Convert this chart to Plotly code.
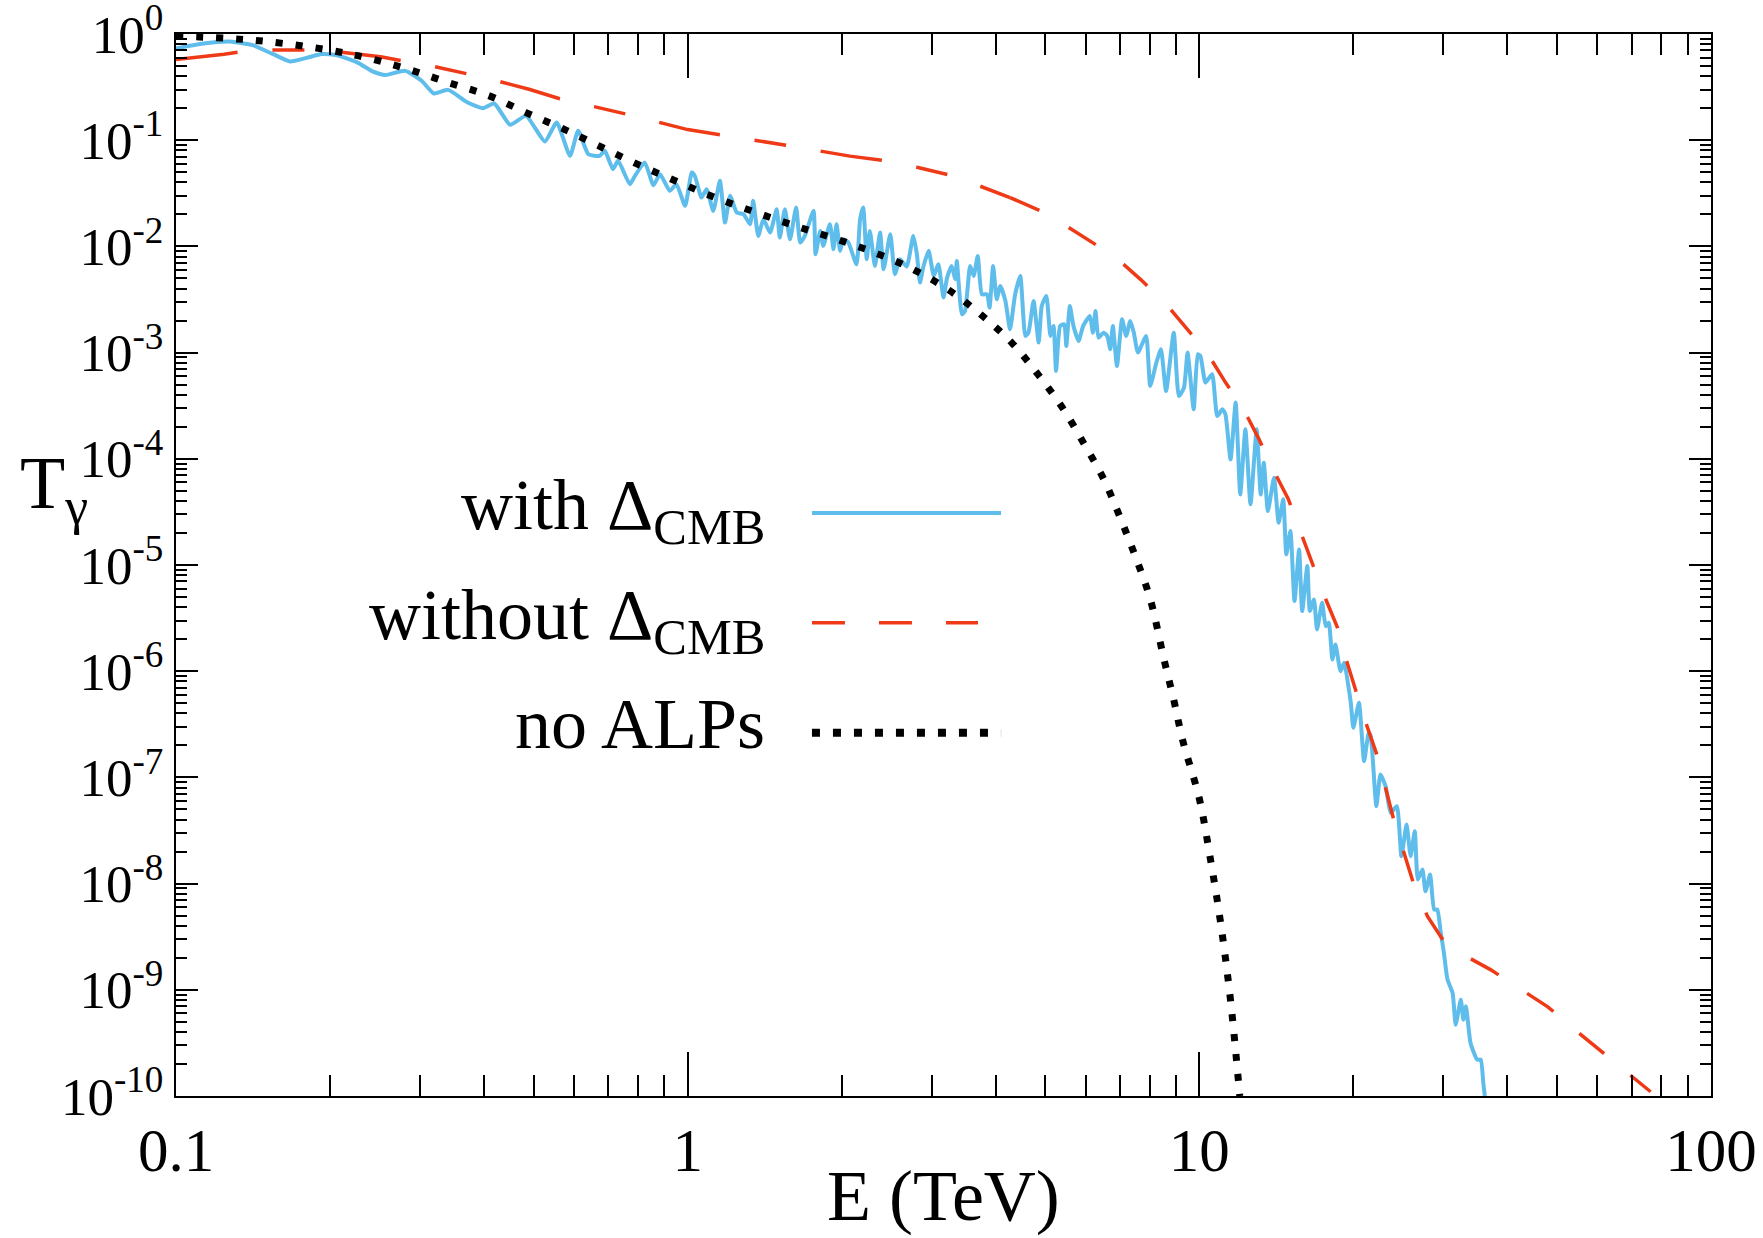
import numpy as np
import plotly.graph_objects as go

# ---------------- data (log10 values) ----------------
# "with Delta_CMB" (blue, solid)
blue_logE = [
    -1.000, -0.950, -0.895, -0.850, -0.810, -0.777, -0.745, -0.715, -0.685, -0.645,
    -0.615, -0.591, -0.552, -0.520, -0.496, -0.468, -0.430, -0.400, -0.378, -0.347,
    -0.316, -0.279, -0.256, -0.230, -0.214, -0.194, -0.172, -0.162, -0.146, -0.136,
    -0.113, -0.103, -0.084, -0.067, -0.054, -0.035, -0.022, -0.005, 0.008, 0.014,
    0.027, 0.037, 0.050, 0.063, 0.073, 0.083, 0.096, 0.109, 0.122, 0.128,
    0.138, 0.148, 0.161, 0.174, 0.180, 0.190, 0.200, 0.212, 0.220, 0.229,
    0.246, 0.250, 0.259, 0.265, 0.278, 0.285, 0.291, 0.298, 0.304, 0.314,
    0.330, 0.337, 0.343, 0.350, 0.356, 0.366, 0.376, 0.383, 0.396, 0.405,
    0.415, 0.428, 0.441, 0.448, 0.454, 0.461, 0.471, 0.481, 0.490, 0.500,
    0.507, 0.516, 0.523, 0.526, 0.536, 0.542, 0.552, 0.559, 0.567, 0.575,
    0.585, 0.590, 0.597, 0.604, 0.611, 0.621, 0.630, 0.640, 0.650, 0.660,
    0.666, 0.676, 0.686, 0.692, 0.701, 0.709, 0.715, 0.720, 0.728, 0.736,
    0.740, 0.747, 0.754, 0.764, 0.773, 0.786, 0.792, 0.797, 0.803, 0.813,
    0.820, 0.826, 0.831, 0.839, 0.849, 0.857, 0.865, 0.872, 0.880, 0.896,
    0.904, 0.916, 0.925, 0.935, 0.950, 0.960, 0.970, 0.977, 0.989, 0.997,
    1.002, 1.012, 1.025, 1.035, 1.045, 1.051, 1.061, 1.071, 1.080, 1.090,
    1.100, 1.112, 1.120, 1.126, 1.134, 1.146, 1.155, 1.164, 1.170, 1.178,
    1.186, 1.195, 1.201, 1.211, 1.216, 1.224, 1.230, 1.240, 1.247, 1.253,
    1.260, 1.266, 1.276, 1.283, 1.296,
    1.301, 1.312, 1.322, 1.331, 1.335, 1.346, 1.354, 1.364, 1.374, 1.386,
    1.395, 1.405, 1.413, 1.421, 1.427, 1.436, 1.442, 1.451, 1.459, 1.465,
    1.472, 1.478, 1.485, 1.495, 1.501, 1.511, 1.516, 1.521, 1.530, 1.543,
    1.550, 1.555, 1.558,
]
blue_logT = [
    -0.136, -0.092, -0.070, -0.105, -0.190, -0.258, -0.225, -0.189, -0.200, -0.270,
    -0.355, -0.387, -0.347, -0.440, -0.560, -0.526, -0.645, -0.698, -0.654, -0.855,
    -0.771, -1.012, -0.833, -1.147, -0.912, -1.132, -1.147, -1.100, -1.273, -1.194,
    -1.414, -1.336, -1.210, -1.424, -1.320, -1.477, -1.414, -1.618, -1.304, -1.336,
    -1.540, -1.461, -1.666, -1.383, -1.776, -1.524, -1.681, -1.697, -1.791, -1.571,
    -1.901, -1.744, -1.870, -1.650, -1.917, -1.650, -1.933, -1.634, -1.964, -1.901,
    -1.666, -2.074, -1.854, -1.995, -1.791, -2.027, -1.791, -2.042, -1.933, -1.964,
    -2.168, -1.744, -1.634, -2.121, -1.854, -2.184, -1.870, -2.215, -1.885, -2.262,
    -2.121, -2.190, -1.901, -2.074, -2.341, -2.184, -2.042, -2.278, -2.168, -2.482,
    -2.294, -2.184, -2.309, -2.137, -2.639, -2.608, -2.184, -2.278, -2.090, -2.451,
    -2.451, -2.576, -2.184, -2.498, -2.372, -2.513, -2.780, -2.451, -2.278, -2.843,
    -2.812, -2.513, -2.906, -2.561, -2.466, -2.843, -2.749, -3.173, -2.749, -2.733,
    -2.937, -2.561, -2.749, -2.890, -2.749, -2.655, -2.812, -2.608, -2.859, -2.812,
    -2.843, -2.969, -2.749, -3.126, -2.686, -2.843, -2.702, -2.812, -3.000, -2.843,
    -3.314, -3.095, -2.969, -3.362, -2.812, -3.409, -3.330, -3.000, -3.534, -3.016,
    -3.031, -3.283, -3.204, -3.597, -3.534, -3.581, -4.005, -3.471, -4.335, -3.722,
    -4.429, -3.722, -4.335, -4.037, -4.492, -4.178, -4.602, -4.382, -4.900, -4.680,
    -5.340, -4.853, -5.434, -5.010, -5.434, -5.324, -5.607, -5.356, -5.576, -5.544,
    -5.890, -5.748, -6.000, -5.921, -6.298,
    -6.533, -6.298, -6.847, -6.580, -6.612, -7.271, -6.973, -7.083, -7.334, -7.271,
    -7.742, -7.444, -7.742, -7.507, -7.962, -7.868, -8.072, -7.915, -8.245, -8.245,
    -8.465, -8.653, -8.904, -9.030, -9.328, -9.093, -9.281, -9.156, -9.501, -9.658,
    -9.658, -9.878, -10.000,
]

# "without Delta_CMB" (red, dashed)
red_logE = [
    -1.000, -0.906, -0.850, -0.715, -0.600, -0.502, -0.398, -0.310, -0.250, -0.187,
    -0.119, 0.000, 0.069, 0.128, 0.196, 0.317, 0.382, 0.448, 0.513, 0.570,
    0.630, 0.692, 0.744, 0.803, 0.852, 0.885, 0.929, 0.973, 1.015, 1.051,
    1.086, 1.116, 1.144, 1.174, 1.223, 1.246, 1.270, 1.285, 1.305, 1.325,
    1.348, 1.380, 1.418, 1.446, 1.476, 1.516, 1.569, 1.681, 1.745, 1.882,
]
red_logT = [
    -0.240, -0.190, -0.150, -0.150, -0.215, -0.300, -0.410, -0.520, -0.610, -0.680,
    -0.755, -0.900, -0.950, -1.000, -1.050, -1.150, -1.190, -1.255, -1.330, -1.430,
    -1.540, -1.670, -1.820, -2.000, -2.170, -2.310, -2.510, -2.760, -3.000, -3.280,
    -3.530, -3.810, -4.100, -4.380, -5.010, -5.310, -5.590, -5.860, -6.170, -6.480,
    -6.800, -7.400, -7.990, -8.310, -8.530, -8.670, -8.810, -9.160, -9.420, -9.960,
]

# "no ALPs" (black, dotted)
black_logE = [
    -1.000, -0.903, -0.824, -0.703, -0.622, -0.547, -0.468, -0.389, -0.316, -0.240,
    -0.167, -0.094, -0.019, 0.057, 0.134, 0.210, 0.288, 0.365, 0.438, 0.510,
    0.575, 0.634, 0.687, 0.734, 0.776, 0.813, 0.845, 0.875, 0.904, 0.931,
    0.950, 0.968, 1.000, 1.021, 1.041, 1.061, 1.079,
]
black_logT = [
    -0.020, -0.040, -0.070, -0.150, -0.230, -0.330, -0.457, -0.580, -0.740, -0.900,
    -1.069, -1.235, -1.393, -1.546, -1.681, -1.807, -1.927, -2.058, -2.210, -2.410,
    -2.650, -2.910, -3.220, -3.530, -3.870, -4.190, -4.550, -4.920, -5.320, -5.890,
    -6.270, -6.660, -7.200, -7.750, -8.350, -9.100, -10.000,
]

x_tick_vals = [0.1, 1, 10, 100]
x_tick_text = ["0.1", "1", "10", "100"]
y_tick_exps = [0, -1, -2, -3, -4, -5, -6, -7, -8, -9, -10]
y_tick_text = ["10<sup>%d</sup>" % e for e in y_tick_exps]

legend_labels = ["with \u0394<sub>CMB</sub>", "without \u0394<sub>CMB</sub>", "no ALPs"]

# ---------------- styling ----------------
FONT = "Liberation Serif"
BLUE = "#5fbdec"
RED = "#ef3a17"
BLACK = "#000000"

E_blue = np.power(10.0, blue_logE)
T_blue = np.power(10.0, blue_logT)
E_red = np.power(10.0, red_logE)
T_red = np.power(10.0, red_logT)
E_black = np.power(10.0, black_logE)
T_black = np.power(10.0, black_logT)

split = red_logE.index(0.630)

fig = go.Figure()
fig.add_trace(go.Scatter(x=E_blue, y=T_blue, mode="lines",
                         line=dict(color=BLUE, width=4, shape="spline", smoothing=0.5),
                         showlegend=False, name=legend_labels[0]))
fig.add_trace(go.Scatter(x=E_red[:split + 1], y=T_red[:split + 1], mode="lines",
                         line=dict(color=RED, width=3.5, dash="62px,35px,32px,35px"),
                         showlegend=False, name=legend_labels[1]))
fig.add_trace(go.Scatter(x=E_red[split:], y=T_red[split:], mode="lines",
                         line=dict(color=RED, width=3.5, dash="32px,34px"),
                         showlegend=False, name=legend_labels[1]))
fig.add_trace(go.Scatter(x=E_black, y=T_black, mode="lines",
                         line=dict(color=BLACK, width=7, dash="7px,13px", shape="spline"),
                         showlegend=False, name=legend_labels[2]))

x_minor = [m * 10.0 ** d for d in (-1, 0, 1) for m in range(2, 10)]
y_minor = [m * 10.0 ** d for d in range(-10, 0) for m in range(2, 10)]

fig.update_layout(
    width=1763, height=1238,
    margin=dict(l=176, r=52, t=34, b=142, autoexpand=False),
    paper_bgcolor="white", plot_bgcolor="white",
    font=dict(family=FONT, color="black"),
    xaxis=dict(
        type="log", range=[-1, 2], automargin=False,
        showline=True, linecolor="black", linewidth=2, mirror="ticks",
        ticks="inside", ticklen=44, tickwidth=2, tickcolor="black",
        tickmode="array", tickvals=x_tick_vals, ticktext=x_tick_text,
        tickfont=dict(family=FONT, size=61, color="black"),
        ticklabelstandoff=0, ticklabeloverflow="allow",
        showgrid=False, zeroline=False,
        minor=dict(ticks="inside", ticklen=21, tickwidth=2, tickcolor="black",
                   tickmode="array", tickvals=x_minor, showgrid=False),
    ),
    yaxis=dict(
        type="log", range=[-10, 0], automargin=False,
        showline=True, linecolor="black", linewidth=2, mirror="ticks",
        ticks="inside", ticklen=22, tickwidth=2, tickcolor="black",
        tickmode="array", tickvals=[10.0 ** e for e in y_tick_exps], ticktext=y_tick_text,
        tickfont=dict(family=FONT, size=53, color="black"),
        ticklabelstandoff=0, ticklabeloverflow="allow",
        showgrid=False, zeroline=False,
        minor=dict(ticks="inside", ticklen=11, tickwidth=2, tickcolor="black",
                   tickmode="array", tickvals=y_minor, showgrid=False),
    ),
)

annots = []
# axis titles
annots.append(dict(text="E (TeV)", xref="paper", yref="paper", x=0.5, y=-0.094,
                   xanchor="center", yanchor="middle", showarrow=False,
                   font=dict(family=FONT, size=72, color="black")))
annots.append(dict(text="T<sub>\u03b3</sub>", xref="paper", yref="paper", x=-0.103, y=0.572,
                   xanchor="left", yanchor="middle", showarrow=False,
                   font=dict(family=FONT, size=74, color="black")))
# legend text
legend_y = [0.552, 0.448, 0.350]
for lab, yy in zip(legend_labels, legend_y):
    annots.append(dict(text=lab, xref="paper", yref="paper", x=0.385, y=yy,
                       xanchor="right", yanchor="middle", showarrow=False,
                       font=dict(family=FONT, size=72, color="black")))
fig.update_layout(annotations=annots)

# legend sample lines (paper coordinates)
line_y = [0.549, 0.4457, 0.3421]
shapes = [
    dict(type="line", xref="paper", yref="paper", x0=0.4143, x1=0.5375, y0=line_y[0], y1=line_y[0],
         line=dict(color=BLUE, width=4)),
    dict(type="line", xref="paper", yref="paper", x0=0.4143, x1=0.5225, y0=line_y[1], y1=line_y[1],
         line=dict(color=RED, width=3.5, dash="33px,34px")),
    dict(type="line", xref="paper", yref="paper", x0=0.4143, x1=0.5375, y0=line_y[2], y1=line_y[2],
         line=dict(color=BLACK, width=8, dash="8px,13px")),
]
fig.update_layout(shapes=shapes)

fig.write_html("out.html")
